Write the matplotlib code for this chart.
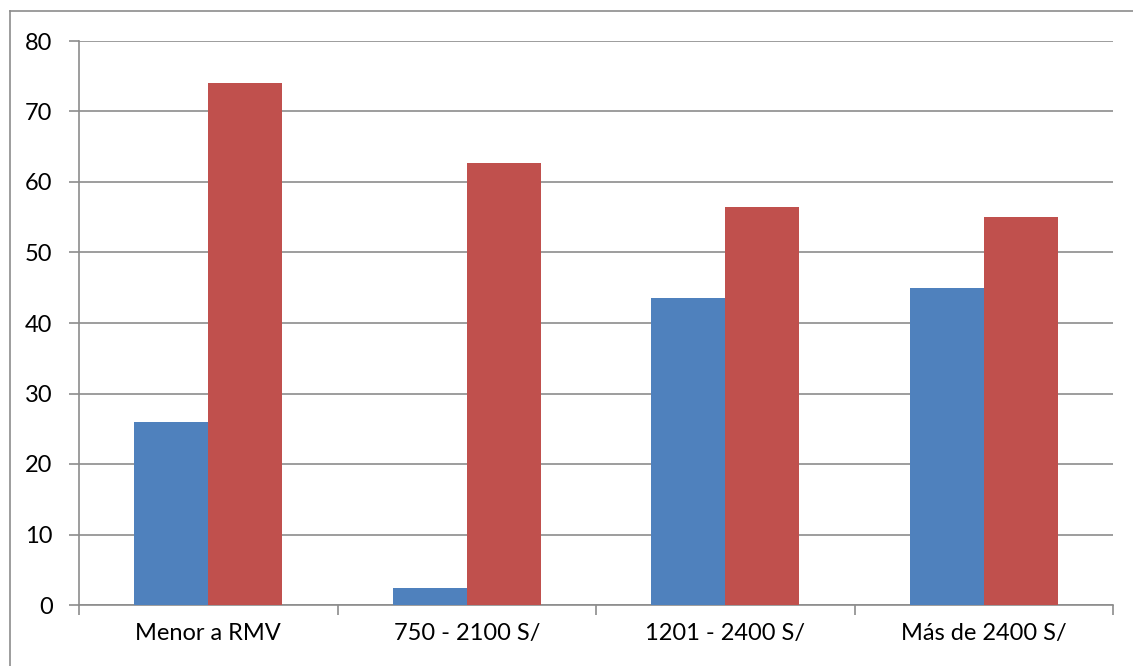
import numpy as np
import matplotlib.pyplot as plt
from matplotlib.lines import Line2D

categorias = ['Menor a RMV', '750 - 2100 S/', '1201 - 2400 S/', 'Más de 2400 S/']
serie_azul = [25.9, 2.4, 43.6, 45.0]
serie_roja = [74.1, 62.7, 56.4, 55.0]

W, H = 1133, 666
plt.rcParams['font.family'] = ['Lato', 'DejaVu Sans']

fig = plt.figure(figsize=(W / 100, H / 100), dpi=100)
ax = fig.add_axes([79 / W, 1 - 605 / H, (1113 - 79) / W, (605 - 41) / H])

x = np.arange(len(categorias))
ancho = 0.286
ax.bar(x - ancho / 2, serie_azul, ancho, color='#4f81bd', zorder=3)
ax.bar(x + ancho / 2, serie_roja, ancho, color='#c0504d', zorder=3)

ax.set_xlim(-0.5, len(categorias) - 0.5)
ax.set_ylim(0, 80)
ax.set_yticks(range(0, 81, 10))
ax.yaxis.grid(True, color='#8c8c8c', linewidth=1.2, zorder=0)
ax.tick_params(axis='y', length=7, color='#8c8c8c', width=1.2, labelsize=17, pad=12)

# ticks de categoria en los limites
ax.set_xticks(np.arange(-0.5, len(categorias), 1))
ax.set_xticklabels([])
ax.set_xticks(x, minor=True)
ax.set_xticklabels(categorias, minor=True)
ax.tick_params(axis='x', which='major', length=7, color='#8c8c8c', width=1.2)
ax.tick_params(axis='x', which='minor', length=0, labelsize=17, pad=13)

for lado in ['top', 'right']:
    ax.spines[lado].set_visible(False)
for lado in ['left', 'bottom']:
    ax.spines[lado].set_color('#8c8c8c')
    ax.spines[lado].set_linewidth(1.2)

# borde del grafico
fig.add_artist(Line2D([10 / W, 10 / W], [0, 1 - 11 / H], color='#8c8c8c', linewidth=1.2))
fig.add_artist(Line2D([10 / W, 1], [1 - 11 / H, 1 - 11 / H], color='#8c8c8c', linewidth=1.2))

fig.savefig('out.png', dpi=100)
